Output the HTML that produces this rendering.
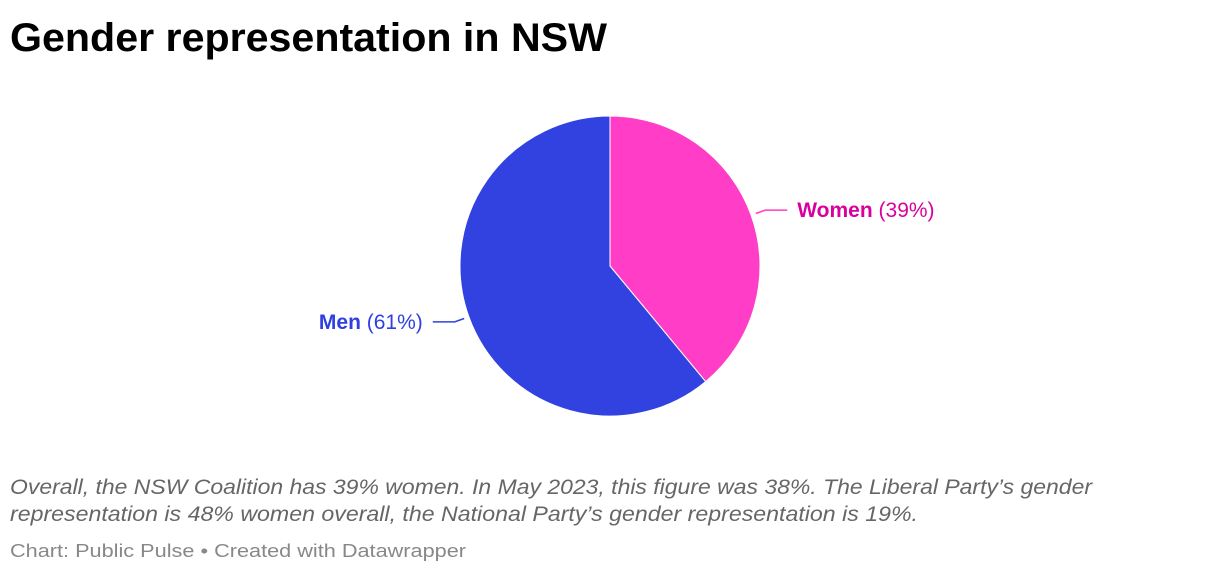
<!DOCTYPE html>
<html><head><meta charset="utf-8"><style>
html,body{margin:0;padding:0;background:#fff;width:1220px;height:574px;overflow:hidden}
svg{display:block;font-family:"Liberation Sans",sans-serif}
</style></head><body>
<svg width="1220" height="574" viewBox="0 0 1220 574">
<text x="10" y="51" font-size="40" font-weight="bold" fill="#000" textLength="597" lengthAdjust="spacingAndGlyphs">Gender representation in NSW</text>
<g id="pie"></g>
<g id="labels"></g>
<text x="10" y="494" font-size="21" font-style="italic" fill="#666" textLength="1082" lengthAdjust="spacingAndGlyphs">Overall, the NSW Coalition has 39% women. In May 2023, this figure was 38%. The Liberal Party’s gender</text>
<text x="10" y="521" font-size="21" font-style="italic" fill="#666" textLength="908" lengthAdjust="spacingAndGlyphs">representation is 48% women overall, the National Party’s gender representation is 19%.</text>
<text x="10" y="557" font-size="18" fill="#888" textLength="456" lengthAdjust="spacingAndGlyphs">Chart: Public Pulse • Created with Datawrapper</text>
</svg>
<script>
const categories = ["Women", "Men"];
const values = [39, 61];
const colors = ["#ff3dc6", "#3142e1"];
const labelColors = ["#d9009e", "#2f3fe0"];
const NS = "http://www.w3.org/2000/svg";
const cx = 610, cy = 266, r = 150;
const total = values.reduce((a,b)=>a+b,0);
function angleOf(v){ return v/total*2*Math.PI; }
function pt(a, rr){ return [cx + rr*Math.sin(a), cy - rr*Math.cos(a)]; }
const pie = document.getElementById('pie');
const labels = document.getElementById('labels');
let start = 0;
values.forEach((v,i)=>{
  const end = start + angleOf(v);
  const p0 = pt(start, r), p1 = pt(end, r);
  const large = (end-start) > Math.PI ? 1 : 0;
  const path = document.createElementNS(NS,'path');
  path.setAttribute('d', `M${cx},${cy} L${p0[0]},${p0[1]} A${r},${r} 0 ${large} 1 ${p1[0]},${p1[1]} Z`);
  path.setAttribute('fill', colors[i]);
  path.setAttribute('stroke', '#fff');
  path.setAttribute('stroke-width', '1');
  
  
  pie.appendChild(path);
  // label
  const mid = (start+end)/2;
  const right = Math.sin(mid) >= 0;
  const e = pt(mid, r+5), b = pt(mid, r+15);
  const lx = right ? b[0] + 22 : b[0] - 22;
  const line = document.createElementNS(NS,'polyline');
  line.setAttribute('points', `${e[0]},${e[1]} ${b[0]},${b[1]} ${lx},${b[1]}`);
  line.setAttribute('fill','none');
  line.setAttribute('stroke', colors[i]);
  line.setAttribute('stroke-width','1.5');
  
  
  labels.appendChild(line);
  const t = document.createElementNS(NS,'text');
  t.setAttribute('x', right ? lx + 10 : lx - 10);
  t.setAttribute('y', b[1] + 7);
  t.setAttribute('font-size', '21');
  t.setAttribute('fill', labelColors[i]);
  t.setAttribute('text-anchor', right ? 'start' : 'end');
  
  
  const tb = document.createElementNS(NS,'tspan');
  tb.setAttribute('font-weight','bold');
  tb.textContent = categories[i];
  const tp = document.createElementNS(NS,'tspan');
  tp.textContent = ' (' + v + '%)';
  t.appendChild(tb); t.appendChild(tp);
  labels.appendChild(t);
  start = end;
});
</script>
</body></html>
